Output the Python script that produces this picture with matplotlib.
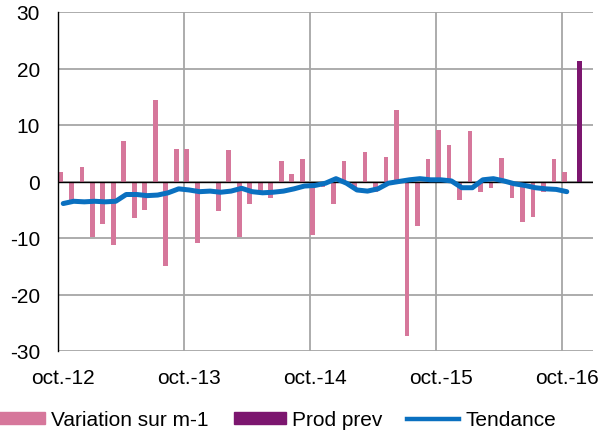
import numpy as np
import pandas as pd
import matplotlib
matplotlib.use('Agg')
import matplotlib.pyplot as plt
from matplotlib.patches import Patch
from matplotlib.lines import Line2D

plt.rcParams['font.family'] = ['Liberation Sans', 'DejaVu Sans']
plt.rcParams['axes.unicode_minus'] = False

# monthly categories, oct. 2012 -> dec. 2016
months = pd.period_range('2012-10', '2016-12', freq='M')

# month-on-month change (oct-12 .. oct-16)
variation = [1.7, -3.7, 2.6, -9.9, -7.5, -11.2, 7.1, -6.5, -5.0, 14.4, -15.0, 5.8,
             5.8, -10.8, -0.3, -5.3, 5.5, -9.9, -3.9, -1.6, -3.0, 3.6, 1.4, 3.9,
             -9.4, -1.0, -3.9, 3.6, -1.0, 5.2, -1.9, 4.4, 12.6, -27.4, -7.8, 3.9,
             9.2, 6.5, -3.3, 8.9, -1.9, -1.2, 4.2, -3.0, -7.1, -6.2, -1.9, 3.9,
             1.7]
# trend (oct-12 .. oct-16)
tendance = [-3.9, -3.5, -3.6, -3.5, -3.6, -3.5, -2.3, -2.3, -2.5, -2.4, -2.0, -1.3,
            -1.5, -1.8, -1.7, -1.9, -1.7, -1.2, -1.8, -2.0, -1.9, -1.7, -1.3, -0.8,
            -0.7, -0.3, 0.5, -0.3, -1.5, -1.7, -1.3, -0.3, 0.0, 0.3, 0.5, 0.3,
            0.3, 0.1, -1.1, -1.1, 0.3, 0.5, 0.1, -0.4, -0.7, -1.1, -1.3, -1.4,
            -1.8]
# forecast (nov-16)
prod_prev_month = '2016-11'
prod_prev = 21.4

pink = '#D6779B'
purple = '#7C166F'
blue = '#0A70C0'

idx = np.arange(len(months))
n = len(variation)
w = 0.45
fs = 15

fig = plt.figure(figsize=(5.99, 4.39), dpi=100)
ax = fig.add_axes((58 / 599, 1 - 352 / 439, (593 - 58) / 599, (352 - 13) / 439))

ax.bar(idx[:n] - w / 2, variation, width=w, color=pink, zorder=2)
pp = list(months.astype(str)).index(prod_prev_month)
ax.bar(idx[pp] + w / 2, prod_prev, width=w, color=purple, zorder=2)
ax.plot(idx[:n], tendance, color=blue, lw=3.6, solid_capstyle='round',
        solid_joinstyle='round', zorder=4)
ax.axhline(0, color='black', lw=1.0, zorder=3)

ax.set_xlim(-0.5, len(months) - 0.5)
ax.set_ylim(-30, 30)
ax.set_yticks(range(-30, 31, 10))

octs = [i for i, m in enumerate(months) if m.month == 10]
ax.set_xticks(octs)
ax.set_xticklabels(['oct.-%s' % str(months[i].year)[2:] for i in octs])
ax.set_xticks([i - 0.5 for i in octs], minor=True)
ax.xaxis.grid(True, which='minor', color='#A6A6A6', lw=1.3)
ax.yaxis.grid(True, color='#A6A6A6', lw=1.3)
ax.set_axisbelow(True)

ax.tick_params(axis='both', which='both', length=0, labelsize=fs, colors='black')
ax.tick_params(axis='y', pad=13)
ax.tick_params(axis='x', pad=12)
for s in ['top', 'right', 'bottom']:
    ax.spines[s].set_visible(False)
ax.spines['left'].set_color('black')
ax.spines['left'].set_linewidth(1.0)

handles = [Patch(color=pink), Patch(color=purple), Line2D([], [], color=blue, lw=3.2)]
fig.legend(handles, ['Variation sur m-1', 'Prod prev', 'Tendance'],
           loc='center left', bbox_to_anchor=(-0.012, 1 - 421 / 439), ncol=3,
           frameon=False, fontsize=fs, handlelength=2.5, handleheight=0.55,
           handletextpad=0.3, columnspacing=1.2, borderpad=0, borderaxespad=0)

fig.savefig('out.png', dpi=100)
